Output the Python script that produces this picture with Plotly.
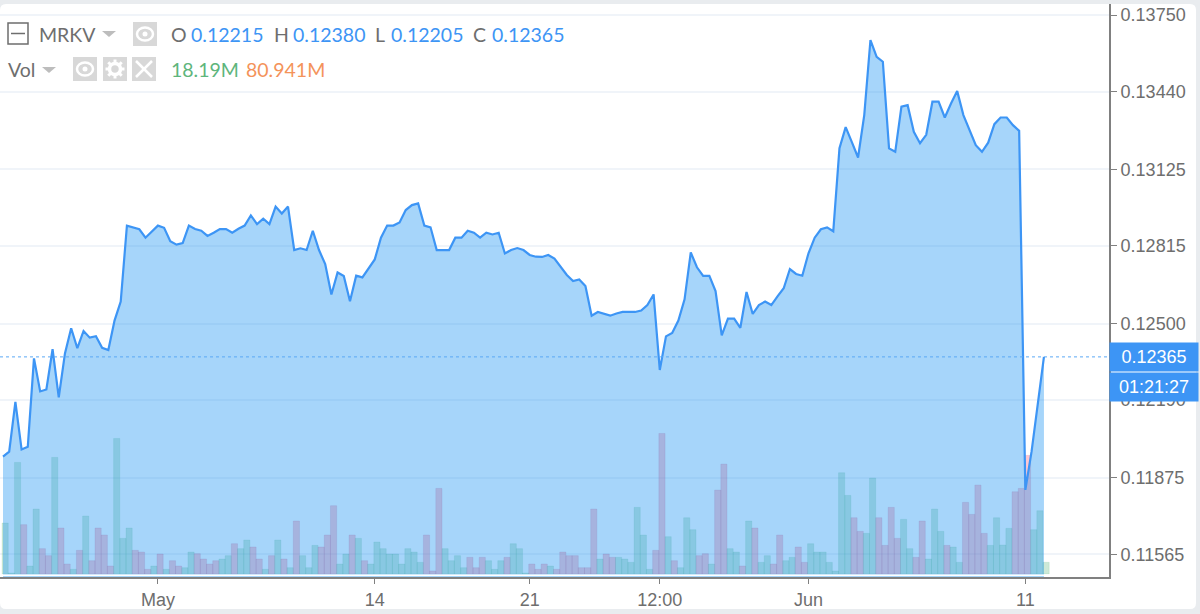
import math
import plotly.graph_objects as go

# candles
price = [
    0.11961, 0.11981, 0.12183, 0.11990, 0.12001, 0.12359, 0.12225, 0.12233, 0.12396, 0.12201,
    0.12379, 0.12481, 0.12400, 0.12470, 0.12443, 0.12449, 0.12402, 0.12393, 0.12512, 0.12589,
    0.12897, 0.12890, 0.12882, 0.12848, 0.12872, 0.12897, 0.12888, 0.12834, 0.12820, 0.12826,
    0.12897, 0.12883, 0.12876, 0.12855, 0.12868, 0.12883, 0.12883, 0.12868, 0.12884, 0.12897,
    0.12938, 0.12903, 0.12925, 0.12903, 0.12974, 0.12946, 0.12974, 0.12798, 0.12805, 0.12798,
    0.12876, 0.12798, 0.12741, 0.12618, 0.12707, 0.12693, 0.12590, 0.12694, 0.12687, 0.12721,
    0.12760, 0.12848, 0.12897, 0.12897, 0.12910, 0.12960, 0.12980, 0.12987, 0.12897, 0.12890,
    0.12798, 0.12798, 0.12798, 0.12848, 0.12848, 0.12876, 0.12868, 0.12848, 0.12868, 0.12861,
    0.12868, 0.12784, 0.12798, 0.12806, 0.12798, 0.12778, 0.12771, 0.12770, 0.12778, 0.12763,
    0.12730, 0.12697, 0.12672, 0.12679, 0.12652, 0.12532, 0.12547, 0.12539, 0.12532, 0.12541,
    0.12547, 0.12547, 0.12547, 0.12553, 0.12575, 0.12618, 0.12312, 0.12448, 0.12462, 0.12512,
    0.12598, 0.12788, 0.12728, 0.12693, 0.12693, 0.12632, 0.12452, 0.12520, 0.12520, 0.12483,
    0.12628, 0.12539, 0.12575, 0.12589, 0.12575, 0.12610, 0.12643, 0.12721, 0.12701, 0.12694,
    0.12785, 0.12848, 0.12882, 0.12890, 0.12874, 0.13211, 0.13296, 0.13235, 0.13173, 0.13345,
    0.13649, 0.13581, 0.13561, 0.13210, 0.13196, 0.13379, 0.13385, 0.13277, 0.13231, 0.13265,
    0.13399, 0.13399, 0.13335, 0.13392, 0.13442, 0.13345, 0.13284, 0.13223, 0.13196, 0.13233,
    0.13308, 0.13335, 0.13335, 0.13304, 0.13281, 0.11826, 0.11981, 0.12178, 0.12365,
]

volume = [
    79.3, 1.6, 173.5, 76.7, 12.4, 101.0, 39.4, 28.5, 181.3, 71.5,
    15.5, 7.3, 36.8, 90.1, 20.7, 71.5, 60.6, 12.4, 210.8, 55.4,
    71.5, 36.8, 34.2, 7.3, 12.4, 31.1, 7.3, 20.7, 12.4, 9.8,
    34.2, 31.6, 23.3, 15.5, 20.7, 23.3, 28.5, 47.1, 39.4, 52.8,
    42.0, 23.3, 7.3, 28.5, 52.8, 23.3, 9.8, 82.4, 28.5, 9.8,
    44.5, 42.0, 60.6, 106.2, 15.5, 31.1, 60.6, 55.4, 20.7, 15.5,
    49.7, 39.4, 31.1, 31.1, 15.5, 39.4, 34.2, 18.1, 60.6, 4.7,
    133.1, 39.4, 20.7, 28.5, 9.8, 25.9, 9.8, 25.9, 20.7, 7.3,
    20.7, 25.9, 47.1, 39.4, 1.6, 15.5, 7.3, 15.5, 12.4, 7.3,
    34.2, 28.5, 28.5, 9.8, 9.8, 101.0, 23.3, 31.1, 25.9, 25.9,
    23.3, 18.1, 103.6, 60.6, 7.3, 36.8, 218.6, 58.0, 20.7, 9.8,
    87.5, 68.9, 28.5, 31.6, 15.5, 130.5, 170.9, 39.4, 34.2, 12.4,
    82.4, 71.5, 18.1, 28.5, 15.5, 60.6, 20.7, 25.9, 42.0, 18.1,
    47.1, 34.2, 34.2, 18.1, 4.7, 157.5, 122.2, 87.5, 66.3, 63.2,
    149.2, 87.5, 44.5, 103.6, 55.4, 85.0, 39.4, 25.9, 82.4, 23.3,
    101.0, 66.3, 44.5, 42.0, 18.1, 111.4, 92.7, 138.3, 63.2, 44.5,
    87.5, 45.1, 71.0, 127.9, 133.1, 184.4, 68.9, 98.4, 18.19,
]

# u = up candle volume, d = down candle volume, ten per chunk
vol_side = list(
    "uuuduuddud" "dududddduu" "udddududdu" "udddduuduu" "ddudududuu"
    "uddduududu" "uuuuuuuudd" "duuuuddduu" "uduuudddud" "dddddduddu"
    "uuuuuddudu" "uuddudduud" "uduudduudd" "uuuuuuuddu" "udddduuddu"
    "uuduuddddu" "uuuddduuu"
)

tick_idx = [25, 60, 85, 106, 130, 165]
tick_text = ["May", "14", "21", "12:00", "Jun", "11"]
price_ticks = [0.13750, 0.13440, 0.13125, 0.12815, 0.12500, 0.12190, 0.11875, 0.11565]
price_labels = ["0.13750", "0.13440", "0.13125", "0.12815", "0.12500", "0.12190", "0.11875", "0.11565"]
last_price = 0.12365
countdown = "01:21:27"

W, H = 1200, 614
LEFT, RIGHT, TOP, BOTTOM = 0, 1109, 4, 577

BLUE = "#3d95f5"
GREY = "#6e6e6e"
ICON = "#d8d8d8"


# picture pixels to paper coordinates, for the frame and the legend icons
def px(x):
    return (x - LEFT) / (RIGHT - LEFT)


def py(y):
    return (BOTTOM - y) / (BOTTOM - TOP)


def box(x0, y0, x1, y1, fill, line=None, width=0, kind="rect"):
    return dict(type=kind, xref="paper", yref="paper", x0=px(x0), x1=px(x1), y0=py(y0), y1=py(y1),
                fillcolor=fill, line=dict(color=line or "rgba(0,0,0,0)", width=width), layer="above")


def seg(x0, y0, x1, y1, color, width):
    return dict(type="line", xref="paper", yref="paper", x0=px(x0), x1=px(x1), y0=py(y0), y1=py(y1),
                line=dict(color=color, width=width), layer="above")


def rounded(x0, y0, x1, y1, r):
    a, b, c, d = px(x0), px(x1), py(y0), py(y1)
    rx, ry = r / (RIGHT - LEFT), r / (BOTTOM - TOP)
    return (f"M{a + rx},{c} L{b - rx},{c} Q{b},{c} {b},{c - ry} L{b},{d + ry} Q{b},{d} {b - rx},{d} "
            f"L{a + rx},{d} Q{a},{d} {a},{d + ry} L{a},{c - ry} Q{a},{c} {a + rx},{c} Z")


def eye(cx, cy):
    return [
        box(cx - 12, cy - 12, cx + 12, cy + 12, ICON),
        box(cx - 8, cy - 6.5, cx + 8, cy + 6.5, "rgba(0,0,0,0)", "white", 2.5, "circle"),
        box(cx - 2.5, cy - 2.5, cx + 2.5, cy + 2.5, "white", None, 0, "circle"),
    ]


def gear(cx, cy):
    out = [box(cx - 12, cy - 12, cx + 12, cy + 12, ICON),
           box(cx - 5.5, cy - 5.5, cx + 5.5, cy + 5.5, "rgba(0,0,0,0)", "white", 3.5, "circle")]
    for k in range(8):
        a = k * math.pi / 4
        out.append(seg(cx + 6 * math.cos(a), cy + 6 * math.sin(a), cx + 9.5 * math.cos(a), cy + 9.5 * math.sin(a), "white", 3))
    return out


def cross(cx, cy):
    return [box(cx - 12, cy - 12, cx + 12, cy + 12, ICON),
            seg(cx - 8, cy - 8, cx + 8, cy + 8, "white", 2.5),
            seg(cx - 8, cy + 8, cx + 8, cy - 8, "white", 2.5)]


def arrow(x0, y0):
    return dict(type="path", xref="paper", yref="paper", layer="above", fillcolor="#bdbdbd", line=dict(width=0),
                path=f"M{px(x0)},{py(y0)} L{px(x0 + 14)},{py(y0)} L{px(x0 + 7)},{py(y0 + 6)} Z")


def label(x, y, text, color):
    return dict(xref="paper", yref="paper", x=px(x), y=py(y), text=text, showarrow=False, xanchor="left", yanchor="middle",
                borderpad=0, font=dict(family="Lato", size=19.5, color=color))


idx = list(range(len(price)))
bar_fill = ["rgba(60,170,100,0.26)" if s == "u" else "rgba(255,80,110,0.32)" for s in vol_side]
bar_edge = ["rgba(60,170,100,0.12)" if s == "u" else "rgba(190,70,120,0.15)" for s in vol_side]

fig = go.Figure()
# bars sit on the main subplot so the blue area lies over them
fig.add_trace(go.Bar(x=idx, y=volume, width=1, offset=-0.15, yaxis="y",
                     marker=dict(color=bar_fill, line=dict(color=bar_edge, width=1))))
fig.add_trace(go.Scatter(x=idx, y=price, mode="lines", yaxis="y2", fill="tozeroy",
                         fillcolor="rgba(33,150,243,0.4)", line=dict(color=BLUE, width=2.2)))

shapes = [
    dict(type="path", xref="paper", yref="paper", layer="below", fillcolor="white", line=dict(width=0),
         path=rounded(0, 4, 1196, 609, 6)),
    dict(type="line", xref="paper", x0=0, x1=1, yref="y2", y0=last_price, y1=last_price,
         line=dict(color="#5aa8f5", width=1, dash="dot"), layer="above"),
    box(0, 574.5, 1109, 576, "white"),
    box(8, 23, 28, 44, "rgba(0,0,0,0)", GREY, 1.5),
    seg(11, 33.5, 25, 33.5, GREY, 1.5),
    arrow(102, 31),
    arrow(42, 67),
]
shapes += eye(145, 34) + eye(85, 69) + gear(115, 69) + cross(144, 69)

annotations = [
    label(38, 34, "MRKV", GREY),
    label(170, 34, "O", GREY), label(190, 34, "0.12215", BLUE),
    label(273, 34, "H", GREY), label(292, 34, "0.12380", BLUE),
    label(374, 34, "L", GREY), label(390, 34, "0.12205", BLUE),
    label(472, 34, "C", GREY), label(491, 34, "0.12365", BLUE),
    label(7, 69, "Vol", GREY),
    label(170, 69, "18.19M", "#5eb57c"), label(245, 69, "80.941M", "#f4935a"),
    dict(xref="paper", yref="y2", x=1, y=last_price, xanchor="left", yanchor="middle", showarrow=False,
         text=f"{last_price:.5f}", width=86, height=26, bgcolor=BLUE, align="center", valign="middle",
         font=dict(family="Liberation Sans", size=18, color="white")),
    dict(xref="paper", yref="y2", x=1, y=last_price, xanchor="left", yanchor="middle", yshift=-30, showarrow=False,
         text=countdown, width=86, height=26, bgcolor=BLUE, align="center", valign="middle",
         font=dict(family="Liberation Sans", size=18, color="white")),
]

fig.update_layout(
    width=W, height=H, showlegend=False, hovermode=False,
    paper_bgcolor="#e9ecef", plot_bgcolor="rgba(0,0,0,0)",
    margin=dict(l=LEFT, r=W - RIGHT, t=TOP, b=H - BOTTOM, pad=0, autoexpand=False),
    font=dict(family="Liberation Sans", size=18, color=GREY),
    shapes=shapes, annotations=annotations,
    xaxis=dict(range=[-0.484, 178.5], tickmode="array", tickvals=tick_idx, ticktext=tick_text,
               showgrid=False, zeroline=False, showline=True, linecolor="#808080", linewidth=2,
               ticks="outside", ticklen=5, tickcolor="#808080", tickwidth=1),
    yaxis=dict(range=[-4.67, 886.4], showticklabels=False, showgrid=False, zeroline=False, ticks=""),
    yaxis2=dict(range=[0.11473, 0.13795], overlaying="y", side="right", anchor="x",
                tickmode="array", tickvals=price_ticks, ticktext=price_labels,
                showgrid=True, gridcolor="#f0f4f9", gridwidth=1.5, zeroline=False,
                showline=True, linecolor="#808080", linewidth=2,
                ticks="outside", ticklen=6, tickcolor="#808080", tickwidth=1),
)

fig.write_html("out.html", config=dict(displayModeBar=False),
               post_script="document.body.style.margin='0';document.body.style.overflow='hidden';")
